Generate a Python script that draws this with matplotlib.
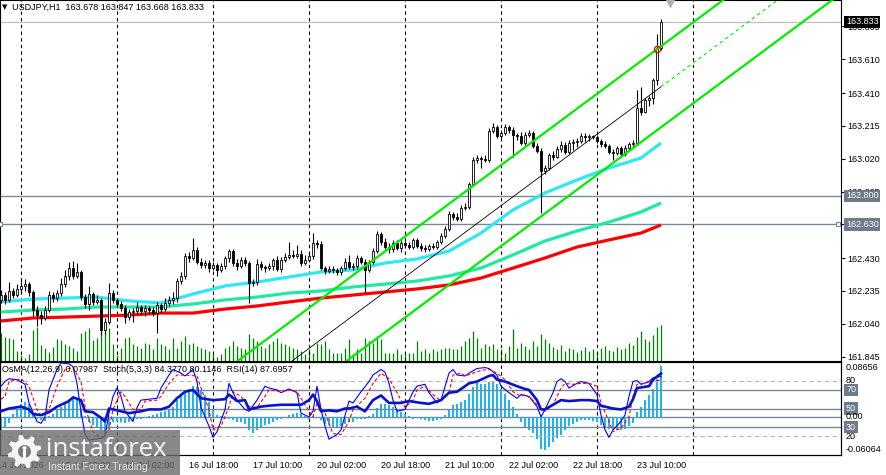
import matplotlib
matplotlib.use("Agg")
import matplotlib.pyplot as plt
import matplotlib.transforms as mtransforms
from matplotlib.patches import Rectangle, Polygon, Ellipse
import numpy as np

plt.rcParams['font.family'] = ['Liberation Sans', 'DejaVu Sans']
plt.rcParams['font.size'] = 6.5

# ---------------- data (USDJPY H1, 14 Jul 19:00 .. 23 Jul 16:00) ----------------
opens = [162.182, 162.211, 162.182, 162.235, 162.211, 162.247, 162.265, 162.276, 162.229, 162.122,
         162.092, 162.075, 162.122, 162.211, 162.193, 162.223, 162.276, 162.324, 162.371, 162.324,
         162.348, 162.199, 162.158, 162.217, 162.170, 162.182, 162.004, 162.051, 162.223, 162.182,
         162.158, 162.134, 162.080, 162.110, 162.116, 162.140, 162.116, 162.134, 162.122, 162.104,
         162.152, 162.128, 162.164, 162.182, 162.193, 162.294, 162.324, 162.443, 162.431, 162.478,
         162.407, 162.389, 162.401, 162.371, 162.389, 162.360, 162.383, 162.431, 162.472, 162.401,
         162.383, 162.419, 162.401, 162.282, 162.288, 162.395, 162.377, 162.371, 162.383, 162.419,
         162.365, 162.419, 162.437, 162.449, 162.443, 162.455, 162.401, 162.419, 162.443, 162.520,
         162.514, 162.371, 162.354, 162.365, 162.360, 162.348, 162.371, 162.407, 162.377, 162.383,
         162.431, 162.407, 162.360, 162.407, 162.472, 162.573, 162.526, 162.496, 162.484, 162.520,
         162.490, 162.520, 162.508, 162.496, 162.538, 162.502, 162.490, 162.484, 162.502, 162.496,
         162.526, 162.561, 162.603, 162.692, 162.674, 162.662, 162.728, 162.734, 162.870, 163.013,
         163.024, 163.018, 163.013, 163.185, 163.209, 163.155, 163.173, 163.209, 163.191, 163.161,
         163.155, 163.113, 163.161, 163.173, 163.096, 163.066, 162.947, 162.965, 163.042, 163.030,
         163.078, 163.101, 163.060, 163.113, 163.119, 163.125, 163.155, 163.149, 163.155, 163.149,
         163.125, 163.107, 163.096, 163.060, 163.054, 163.084, 163.048, 163.084, 163.107, 163.113,
         163.321, 163.297, 163.369, 163.380, 163.487, 163.678]
highs = [162.241, 162.229, 162.288, 162.253, 162.276, 162.312, 162.306, 162.288, 162.241, 162.146,
         162.116, 162.146, 162.235, 162.229, 162.241, 162.312, 162.360, 162.407, 162.413, 162.401,
         162.360, 162.217, 162.265, 162.229, 162.211, 162.193, 162.075, 162.282, 162.241, 162.193,
         162.176, 162.152, 162.128, 162.134, 162.170, 162.152, 162.152, 162.146, 162.140, 162.170,
         162.164, 162.193, 162.205, 162.229, 162.312, 162.348, 162.460, 162.466, 162.550, 162.496,
         162.431, 162.419, 162.419, 162.407, 162.401, 162.401, 162.443, 162.484, 162.484, 162.425,
         162.437, 162.437, 162.413, 162.306, 162.425, 162.413, 162.389, 162.401, 162.431, 162.443,
         162.437, 162.460, 162.526, 162.478, 162.508, 162.478, 162.449, 162.466, 162.579, 162.538,
         162.532, 162.383, 162.383, 162.383, 162.371, 162.383, 162.431, 162.449, 162.401, 162.449,
         162.443, 162.425, 162.419, 162.490, 162.591, 162.585, 162.550, 162.520, 162.538, 162.538,
         162.538, 162.532, 162.526, 162.550, 162.550, 162.520, 162.508, 162.514, 162.520, 162.538,
         162.579, 162.621, 162.710, 162.704, 162.698, 162.745, 162.757, 162.882, 163.030, 163.042,
         163.036, 163.042, 163.203, 163.232, 163.221, 163.191, 163.226, 163.221, 163.209, 163.173,
         163.179, 163.179, 163.191, 163.185, 163.113, 163.084, 162.983, 163.054, 163.066, 163.096,
         163.125, 163.119, 163.131, 163.137, 163.143, 163.173, 163.173, 163.167, 163.161, 163.161,
         163.137, 163.125, 163.107, 163.078, 163.096, 163.096, 163.101, 163.119, 163.131, 163.428,
         163.446, 163.380, 163.392, 163.499, 163.760, 163.847]
lows = [162.164, 162.158, 162.170, 162.193, 162.199, 162.223, 162.235, 162.205, 162.086, 162.027,
        162.039, 162.063, 162.110, 162.170, 162.176, 162.205, 162.259, 162.300, 162.306, 162.312,
        162.182, 162.134, 162.122, 162.152, 162.158, 161.974, 161.980, 162.039, 162.164, 162.140,
        162.116, 162.045, 162.063, 162.051, 162.098, 162.098, 162.086, 162.104, 162.086, 161.986,
        162.104, 162.116, 162.146, 162.158, 162.170, 162.276, 162.306, 162.407, 162.419, 162.395,
        162.371, 162.371, 162.348, 162.360, 162.324, 162.348, 162.365, 162.407, 162.383, 162.360,
        162.371, 162.383, 162.164, 162.265, 162.271, 162.360, 162.348, 162.360, 162.360, 162.354,
        162.348, 162.407, 162.425, 162.431, 162.431, 162.383, 162.389, 162.407, 162.425, 162.490,
        162.360, 162.336, 162.342, 162.342, 162.330, 162.330, 162.360, 162.365, 162.360, 162.365,
        162.395, 162.223, 162.348, 162.395, 162.460, 162.508, 162.484, 162.460, 162.466, 162.478,
        162.466, 162.490, 162.484, 162.484, 162.490, 162.472, 162.466, 162.472, 162.484, 162.484,
        162.514, 162.550, 162.591, 162.656, 162.650, 162.650, 162.716, 162.722, 162.858, 162.995,
        162.965, 163.001, 163.001, 163.173, 163.143, 163.143, 163.161, 163.173, 163.030, 163.131,
        163.101, 163.101, 163.149, 163.084, 163.054, 162.698, 162.929, 162.953, 163.013, 163.024,
        163.060, 163.048, 163.048, 163.072, 163.090, 163.113, 163.119, 163.125, 163.137, 163.113,
        163.090, 163.084, 163.048, 163.013, 163.042, 163.030, 163.036, 163.066, 163.090, 163.101,
        163.280, 163.291, 163.333, 163.345, 163.458, 163.668]
closes = [162.211, 162.182, 162.235, 162.211, 162.247, 162.265, 162.276, 162.229, 162.122, 162.092,
          162.075, 162.122, 162.211, 162.193, 162.223, 162.276, 162.324, 162.371, 162.324, 162.348,
          162.199, 162.158, 162.217, 162.170, 162.182, 162.004, 162.051, 162.223, 162.182, 162.158,
          162.134, 162.080, 162.110, 162.116, 162.140, 162.116, 162.134, 162.122, 162.104, 162.152,
          162.128, 162.164, 162.182, 162.193, 162.294, 162.324, 162.443, 162.431, 162.478, 162.407,
          162.389, 162.401, 162.371, 162.389, 162.360, 162.383, 162.431, 162.472, 162.401, 162.383,
          162.419, 162.401, 162.282, 162.288, 162.395, 162.377, 162.371, 162.383, 162.419, 162.365,
          162.419, 162.437, 162.449, 162.443, 162.455, 162.401, 162.419, 162.443, 162.520, 162.514,
          162.371, 162.354, 162.365, 162.360, 162.348, 162.371, 162.407, 162.377, 162.383, 162.431,
          162.407, 162.360, 162.407, 162.472, 162.573, 162.526, 162.496, 162.484, 162.520, 162.490,
          162.520, 162.508, 162.496, 162.538, 162.502, 162.490, 162.484, 162.502, 162.496, 162.526,
          162.561, 162.603, 162.692, 162.674, 162.662, 162.728, 162.734, 162.870, 163.013, 163.024,
          163.018, 163.013, 163.185, 163.209, 163.155, 163.173, 163.209, 163.191, 163.161, 163.155,
          163.113, 163.161, 163.173, 163.096, 163.066, 162.947, 162.965, 163.042, 163.030, 163.078,
          163.101, 163.060, 163.113, 163.119, 163.125, 163.155, 163.149, 163.155, 163.149, 163.125,
          163.107, 163.096, 163.060, 163.054, 163.084, 163.048, 163.084, 163.107, 163.113, 163.321,
          163.297, 163.369, 163.380, 163.487, 163.678, 163.833]
volumes = [2800, 2400, 2300, 2200, 1000, 600, 300, 700, 3100, 3400,
           1600, 1300, 900, 1400, 2200, 2100, 1700, 1500, 1300, 1000,
           2800, 3000, 3300, 2100, 2300, 3000, 2800, 3300, 1700, 600,
           1300, 2300, 2400, 1700, 1500, 1300, 1800, 1700, 1200, 2300,
           1700, 1500, 1200, 2300, 1300, 2000, 2500, 1700, 1800, 1500,
           1300, 1200, 1000, 700, 400, 700, 1300, 1500, 2000, 1500,
           1300, 1200, 2700, 2300, 2000, 1500, 1300, 1700, 2000, 2300,
           1800, 1700, 1500, 1300, 1200, 1000, 700, 1200, 800, 1800,
           1700, 2000, 1200, 800, 800, 800, 1300, 2200, 700, 1200,
           800, 2300, 2000, 1800, 2500, 2200, 800, 800, 800, 1200,
           700, 700, 800, 800, 2000, 1000, 1200, 800, 1200, 1000,
           1200, 1300, 1300, 1200, 1200, 1500, 2000, 2300, 3000, 2300,
           1300, 1700, 1500, 1700, 1200, 1200, 800, 1500, 3200, 1300,
           1800, 1500, 1200, 2000, 1500, 2700, 2200, 1800, 1400, 1200,
           1600, 1000, 1300, 1200, 900, 1100, 1400, 1000, 1200, 900,
           1300, 1500, 1100, 1000, 1400, 1200, 1300, 1800, 1600, 2400,
           3000, 2200, 2000, 2600, 3400, 3600]

# moving averages read every 8 bars
ma_bars = [0, 8, 16, 24, 32, 40, 48, 56, 64, 72, 80, 88, 96, 104, 112, 120, 128, 136, 144, 152, 160, 165]
ma_fast = [162.170, 162.187, 162.193, 162.199, 162.176, 162.164, 162.217, 162.265, 162.288, 162.318, 162.348,
           162.360, 162.401, 162.425, 162.472, 162.579, 162.716, 162.817, 162.894, 162.965, 163.024, 163.113]
ma_mid = [162.110, 162.122, 162.128, 162.140, 162.140, 162.140, 162.158, 162.182, 162.199, 162.223, 162.235,
          162.259, 162.276, 162.294, 162.324, 162.371, 162.449, 162.532, 162.591, 162.644, 162.704, 162.757]
ma_slow = [162.057, 162.075, 162.080, 162.086, 162.092, 162.104, 162.104, 162.128, 162.146, 162.170, 162.193,
           162.211, 162.229, 162.247, 162.271, 162.312, 162.371, 162.431, 162.496, 162.538, 162.579, 162.627]

# equidistant channel: middle line anchors and half width
chan_bars = [50, 165]
chan_mid = [161.418, 163.447]
chan_half = 0.2404

levels_h = [162.800, 162.630]
bid = 163.833
price_ticks = [163.805, 163.610, 163.410, 163.215, 163.020, 162.825, 162.630, 162.430, 162.235, 162.040, 161.845]

sep_bars = [5, 29, 53, 77, 101, 125, 149, 173]
time_bars = [-1, 15, 31, 47, 63, 79, 95, 111, 127, 143, 159]
time_labels = ['14 Jul 2026', '15 Jul 10:00', '16 Jul 02:00', '16 Jul 18:00', '17 Jul 10:00', '20 Jul 02:00',
               '20 Jul 18:00', '21 Jul 10:00', '22 Jul 02:00', '22 Jul 18:00', '23 Jul 10:00']

osma = [-0.0206, -0.0158, -0.0095, 0.0047, 0.0111, 0.0206, 0.0237, 0.0206, 0.0079, -0.0032,
        -0.0047, -0.0063, 0.0016, 0.0047, 0.0111, 0.0158, 0.0222, 0.0285, 0.0285, 0.0285,
        0.0127, 0.0005, -0.0079, -0.0127, -0.0174, -0.0206, -0.0269, -0.0190, -0.0079, -0.0063,
        -0.0079, -0.0095, -0.0079, -0.0047, -0.0032, -0.0032, -0.0016, 0.0004, 0.0032, 0.0047,
        0.0079, 0.0095, 0.0111, 0.0158, 0.0269, 0.0348, 0.0396, 0.0443, 0.0491, 0.0475,
        0.0427, 0.0348, 0.0237, 0.0111, 0.0032, 0.0004, -0.0032, -0.0032, -0.0047, -0.0079,
        -0.0079, -0.0111, -0.0206, -0.0253, -0.0206, -0.0174, -0.0127, -0.0111, -0.0079, -0.0047,
        -0.0032, -0.0004, 0.0032, 0.0047, 0.0063, 0.0047, 0.0004, -0.0032, 0.0016, -0.0004,
        -0.0047, -0.0111, -0.0127, -0.0158, -0.0174, -0.0142, -0.0111, -0.0079, -0.0079, -0.0032,
        -0.0032, -0.0032, 0.0004, 0.0047, 0.0142, 0.0206, 0.0206, 0.0190, 0.0158, 0.0111,
        0.0079, 0.0047, 0.0016, -0.0032, -0.0004, -0.0032, -0.0047, -0.0063, -0.0063, -0.0047,
        -0.0032, 0.0032, 0.0127, 0.0190, 0.0206, 0.0237, 0.0269, 0.0364, 0.0475, 0.0538,
        0.0522, 0.0522, 0.0554, 0.0570, 0.0522, 0.0443, 0.0364, 0.0269, 0.0158, 0.0047,
        -0.0079, -0.0158, -0.0206, -0.0253, -0.0348, -0.0507, -0.0522, -0.0475, -0.0396, -0.0332,
        -0.0285, -0.0206, -0.0142, -0.0111, -0.0079, -0.0047, -0.0047, -0.0047, -0.0063, -0.0079,
        -0.0127, -0.0174, -0.0190, -0.0206, -0.0206, -0.0206, -0.0190, -0.0142, -0.0095, 0.0079,
        0.0158, 0.0269, 0.0348, 0.0443, 0.0602, 0.07987]

stoch_bars = [0, 1, 2, 4, 6, 7, 9, 10, 11, 12, 14, 15, 17, 18, 19, 20, 21, 22, 25, 26, 27, 28, 29, 30, 31,
              33, 34, 35, 37, 39, 40, 42, 43, 45, 46, 48, 49, 50, 52, 53, 54, 56, 57, 58, 59, 61, 62, 64,
              66, 67, 69, 70, 72, 74, 75, 77, 78, 79, 80, 81, 82, 84, 85, 87, 88, 90, 92, 93, 95, 96, 97,
              98, 99, 101, 103, 104, 106, 107, 109, 110, 112, 113, 114, 116, 117, 119, 121, 122, 124, 125,
              127, 129, 130, 132, 134, 135, 136, 138, 139, 140, 141, 142, 144, 145, 147, 149, 150, 151,
              152, 153, 155, 156, 157, 158, 159, 160, 162, 163, 165]
stoch_main = [74, 79, 82, 81, 76, 56, 36, 34, 41, 70, 92, 99, 98, 95, 77, 47, 22, 16, 18, 20, 45, 63, 72, 63, 47,
              36, 51, 59, 60, 61, 72, 86, 92, 88, 85, 92, 79, 51, 31, 19, 25, 49, 77, 67, 59, 49, 47, 59,
              74, 72, 70, 67, 71, 67, 45, 41, 47, 74, 49, 31, 17, 22, 27, 58, 56, 68, 79, 86, 92, 89, 77,
              59, 47, 49, 68, 74, 76, 67, 56, 59, 88, 92, 86, 85, 88, 93, 94, 93, 86, 74,
              67, 61, 65, 63, 52, 41, 49, 67, 79, 82, 79, 72, 77, 79, 77, 65, 43, 27,
              19, 27, 36, 43, 63, 79, 80, 76, 79, 83, 84.377]

signal_bars = [0, 1, 2, 5, 7, 9, 10, 12, 14, 16, 18, 20, 21, 23, 25, 27, 28, 30, 31, 33, 35, 36, 39, 40, 42,
               44, 46, 49, 50, 52, 53, 55, 57, 58, 60, 62, 64, 66, 67, 70, 72, 74, 76, 78, 79, 81, 83, 85,
               87, 88, 91, 93, 95, 97, 99, 101, 103, 104, 106, 108, 110, 112, 113, 115, 116, 118, 120, 122,
               124, 126, 128, 130, 131, 133, 135, 136, 138, 140, 141, 143, 145, 147, 149, 150, 152, 153,
               155, 157, 158, 159, 161, 163, 165]
stoch_signal = [60, 63, 79, 82, 74, 49, 41, 49, 74, 92, 94, 79, 52, 25, 18, 27, 49, 68, 63, 49, 49, 58, 59, 63, 77,
                86, 86, 85, 72, 49, 27, 31, 52, 68, 63, 52, 51, 63, 70, 68, 70, 68, 54, 41, 56, 45, 23, 22,
                36, 49, 61, 77, 88, 82, 67, 51, 59, 70, 74, 65, 58, 67, 86, 88, 85, 88, 91, 92,
                88, 81, 68, 63, 65, 59, 49, 47, 54, 72, 77, 76, 77, 77, 74, 56, 36, 25,
                29, 41, 63, 76, 77, 80, 80.1146]

rsi_bars = [0, 2, 5, 7, 8, 10, 12, 14, 17, 18, 20, 21, 23, 25, 26, 27, 28, 31, 32, 35, 37, 40, 42, 44, 46,
            48, 50, 53, 56, 57, 59, 61, 62, 65, 67, 70, 72, 75, 77, 78, 79, 80, 82, 84, 86, 87, 89, 91,
            93, 95, 97, 100, 102, 105, 107, 110, 112, 114, 116, 117, 119, 122, 123, 124, 126, 129, 131,
            132, 134, 135, 136, 138, 140, 142, 145, 147, 149, 150, 153, 155, 157, 158, 159, 162, 163, 165]
rsi = [47, 50, 52, 49, 44, 43, 46, 52, 58, 62, 59, 47, 46, 40, 36, 50, 49, 46, 45, 47, 49, 49, 52, 61, 68,
       70, 61, 59, 60, 65, 58, 59, 49, 52, 53, 54, 54, 54, 59, 65, 58, 47, 48, 47, 50, 50, 52, 47,
       59, 64, 56, 56, 58, 56, 55, 59, 67, 68, 74, 77, 79, 85, 86, 81, 79, 74, 71,
       70, 59, 49, 49, 54, 59, 58, 59, 59, 58, 53, 50, 49, 52, 60, 72, 74, 81, 87.6957]

osma_max, osma_min = 0.08656, -0.06064

# ---------------- figure ----------------
W, H = 886, 475
fig = plt.figure(figsize=(W / 100, H / 100), dpi=100)
fig.patch.set_facecolor('white')

plot_right = 841
ax = fig.add_axes([0, 1 - 361 / H, plot_right / W, 361 / H])
axi = fig.add_axes([0, 1 - 455 / H, plot_right / W, 93 / H])

o = np.array(opens); c = np.array(closes); hi = np.array(highs); lo = np.array(lows)
bars = np.arange(len(c))
xlim = (-0.25, 210)

# volumes behind the candles
axv = ax.twinx()
axv.set_zorder(1)
ax.set_zorder(2)
ax.patch.set_visible(False)
axv.vlines(bars, 0, volumes, color='#008000', lw=0.9)
axv.set_ylim(0, 36100)
axv.set_xlim(*xlim)
axv.axis('off')

ax.set_xlim(*xlim)
ax.set_ylim(161.8195, 163.962)

for b in sep_bars:
    ax.axvline(b, color='black', lw=0.8, ls=(0, (3, 3)), zorder=1)
    axi.axvline(b, color='black', lw=0.8, ls=(0, (3, 3)), zorder=1)

for lv in levels_h:
    ax.axhline(lv, color='#778899', lw=1.0, zorder=1.5)
ax.axhline(bid, color='#c0c0c0', lw=0.9, zorder=1.5)
btrans = mtransforms.blended_transform_factory(ax.transAxes, ax.transData)
for xa in (0.0, 0.997):
    ax.plot([xa], [levels_h[1]], marker='s', ms=3, mfc='white', mec='#778899', mew=0.8,
            transform=btrans, clip_on=False, zorder=7)

ax.plot(ma_bars, ma_slow, color='#ff0000', lw=2.3, zorder=3, solid_capstyle='butt')
ax.plot(ma_bars, ma_mid, color='#1eeba0', lw=2.3, zorder=3, solid_capstyle='butt')
ax.plot(ma_bars, ma_fast, color='#30e8f5', lw=2.3, zorder=3, solid_capstyle='butt')

# candles
up = c >= o
ax.vlines(bars, lo, hi, color='black', lw=0.8, zorder=4)
ax.bar(bars, np.abs(c - o), bottom=np.minimum(o, c), width=0.6,
       color=np.where(up, 'white', 'black'), edgecolor='black', linewidth=0.6, zorder=5)

# channel
slope = (chan_mid[1] - chan_mid[0]) / (chan_bars[1] - chan_bars[0])
ext_bar = 216
mid_ext = chan_mid[1] + slope * (ext_bar - chan_bars[1])
for off in (chan_half, -chan_half):
    ax.plot([chan_bars[0], ext_bar], [chan_mid[0] + off, mid_ext + off], color='#00ee00', lw=1.6, zorder=6)
ax.plot(chan_bars, chan_mid, color='black', lw=0.6, zorder=6)
ax.plot([chan_bars[1], ext_bar], [chan_mid[1], mid_ext], color='#00ee00', lw=0.8, ls=(0, (3, 3)), zorder=6)

# markers
ax.plot([164], [chan_mid[0] + slope * (164 - chan_bars[0]) + chan_half], marker='o', ms=4.5,
        mfc='none', mec='red', mew=0.9, zorder=7)
ax.plot([167.25], [0.993], marker='v', ms=6, color='#b0b0b0', transform=mtransforms.blended_transform_factory(
    ax.transData, ax.transAxes), clip_on=False, zorder=7)

# axes style
for a in (ax, axi):
    for s in a.spines.values():
        s.set_color('black'); s.set_linewidth(0.8)
ax.set_xticks([])
ax.yaxis.tick_right()
ax.set_yticks(price_ticks)
ax.set_yticklabels([f'{p:.3f}' for p in price_ticks])
ax.tick_params(axis='y', length=3, width=0.8, pad=1.5, labelsize=6.5, direction='out')

def box(axis, trans, y, txt, fc, tc):
    axis.text(1.006, y, txt, transform=trans, color=tc, fontsize=6.5, va='center', ha='left',
              bbox=dict(boxstyle='square,pad=0.18', fc=fc, ec='none'), zorder=10, clip_on=False)

box(ax, btrans, bid, f'{bid:.3f}', 'black', 'white')
for lv in levels_h:
    box(ax, btrans, lv, f'{lv:.3f}', '#6f7b8b', 'white')

ax.text(2 / plot_right, 0.981, '\u25bc', transform=ax.transAxes,
        fontsize=5, va='center', ha='left', family='DejaVu Sans')
ax.text(12 / plot_right, 0.981, f'USDJPY,H1  {opens[-1]:.3f} {highs[-1]:.3f} {lows[-1]:.3f} {closes[-1]:.3f}',
        transform=ax.transAxes, fontsize=6.5, va='center', ha='left')

# ---------------- indicator window ----------------
axi.set_xlim(*xlim)
axi.set_ylim(osma_min, osma_max)
axi.bar(bars, osma, width=0.7, color='#1eb4f0', zorder=2)
axi.axhline(0, color='#778899', lw=1.0, zorder=1.5)
axi.set_xticks([]); axi.set_yticks([])

axs = axi.twinx()
axs.set_ylim(0, 100)
axs.set_yticks([])
for s in axs.spines.values():
    s.set_color('black'); s.set_linewidth(0.8)
for lv in (80, 20):
    axs.axhline(lv, color='#b8b8b8', lw=0.8, ls=(0, (4, 3)), zorder=1)
for lv in (70, 50, 30):
    axs.axhline(lv, color='#778899', lw=1.0, zorder=1)
axs.plot(stoch_bars, stoch_main, color='#0000ff', lw=0.8, zorder=3)
axs.plot(signal_bars, stoch_signal, color='#ff0000', lw=0.8, ls=(0, (3, 2)), zorder=3)
axs.plot(rsi_bars, rsi, color='#0a14c8', lw=1.9, zorder=4)
axs.set_xlim(*xlim)

itrans = mtransforms.blended_transform_factory(axi.transAxes, axi.transData)
strans = mtransforms.blended_transform_factory(axs.transAxes, axs.transData)
axs.text(1.006, 0.985, f'{osma_max:.5f}', transform=axs.transAxes, va='top', ha='left', fontsize=6.5, clip_on=False)
axs.text(1.006, 0.015, f'{osma_min:.5f}', transform=axs.transAxes, va='bottom', ha='left', fontsize=6.5, clip_on=False)
axs.text(1.006, 0, '0.00', transform=itrans, va='center', ha='left', fontsize=6.5, clip_on=False, zorder=11)
for lv in (80, 20):
    axs.text(1.006, lv, str(lv), transform=strans, va='center', ha='left', fontsize=6.5, clip_on=False)
for lv in (70, 50, 30):
    box(axs, strans, lv, str(lv), '#6f7b8b', 'white')

axs.text(2 / plot_right, 0.914, f'OsMA(12,26,9) {osma[-1]:.5f}  Stoch(5,3,3) {stoch_main[-1]:.4f} '
         f'{stoch_signal[-1]:.4f}  RSI(14) {rsi[-1]:.4f}', transform=axs.transAxes,
         va='center', ha='left', fontsize=6.5, zorder=12)

ttrans = mtransforms.blended_transform_factory(axi.transData, axi.transAxes)
for b, lab in zip(time_bars, time_labels):
    axi.text(b, -0.108, lab, transform=ttrans, va='center', ha='left', fontsize=6.5, clip_on=False)

# ---------------- watermark ----------------
def fpt(x, y):
    return (x / W, 1 - y / H)

fig.add_artist(Rectangle(fpt(0, 475), 180 / W, 45 / H, transform=fig.transFigure,
                         fc='#6a6a6a', ec='none', alpha=0.8, zorder=20))
gx, gy, r_out, r_in = 24.5, 451.5, 17.0, 12.5
verts = []
step = 2 * np.pi / 8
for k in range(8):
    for frac, r in zip([0.0, 0.18, 0.45, 0.63], [r_in, r_out, r_out, r_in]):
        a = k * step + frac * step
        verts.append(fpt(gx + r * np.cos(a), gy - r * np.sin(a)))
fig.add_artist(Polygon(verts, closed=True, transform=fig.transFigure, fc='white', ec='none', alpha=0.92, zorder=21))
fig.add_artist(Ellipse(fpt(gx, gy), 13 / W, 13 / H, transform=fig.transFigure, fc='#7a7a7a', ec='none', zorder=22))
fig.add_artist(Ellipse(fpt(gx, gy - 3.5), 4 / W, 4 / H, transform=fig.transFigure, fc='white', ec='none', zorder=23))
fig.add_artist(Rectangle(fpt(gx - 1.8, gy + 6), 3.6 / W, 7.5 / H, transform=fig.transFigure,
                         fc='white', ec='none', zorder=23))
fig.text(*fpt(46, 456.5), 'instaforex', fontsize=18.5, color='white', va='baseline', ha='left',
         family=['Open Sans', 'DejaVu Sans'], alpha=0.95, zorder=24)
fig.text(*fpt(48, 470), 'Instant Forex Trading', fontsize=7.6, color='#ececec', va='baseline', ha='left',
         alpha=0.9, zorder=24)

fig.savefig('out.png', dpi=100, facecolor='white')
